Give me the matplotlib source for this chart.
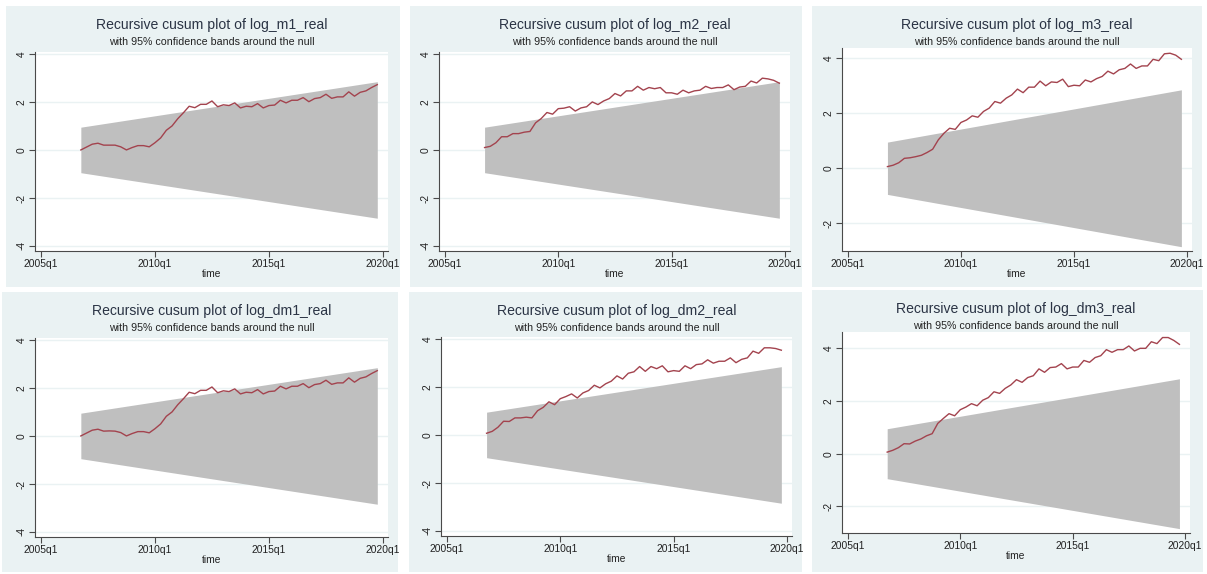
import matplotlib.pyplot as plt
from matplotlib.patches import Rectangle
import numpy as np

plt.rcParams['font.family'] = ['Liberation Sans', 'DejaVu Sans']

# quarterly sample 2006q4 .. 2019q4 (decimal years, q1 = .00)
quarters = np.arange(2006.75, 2019.76, 0.25)

# 95% bands: upper bound at first and last quarter (lower is symmetric)
band_start = 0.948
band_end = 2.844

m1 = [0.0, 0.12, 0.24, 0.28, 0.2, 0.2, 0.2, 0.13, 0.0, 0.1,
      0.18, 0.18, 0.13, 0.3, 0.5, 0.82, 1.0, 1.3, 1.55, 1.82,
      1.76, 1.9, 1.9, 2.04, 1.8, 1.88, 1.85, 1.96, 1.75, 1.82,
      1.8, 1.93, 1.75, 1.85, 1.87, 2.07, 1.96, 2.07, 2.07, 2.18,
      2.01, 2.14, 2.18, 2.32, 2.15, 2.21, 2.21, 2.42, 2.24, 2.4,
      2.46, 2.6, 2.72]
m2 = [0.1, 0.15, 0.3, 0.55, 0.55, 0.68, 0.68, 0.74, 0.77, 1.13,
      1.31, 1.56, 1.49, 1.72, 1.74, 1.8, 1.62, 1.75, 1.8, 2.0,
      1.89, 2.04, 2.14, 2.35, 2.25, 2.46, 2.46, 2.65, 2.49, 2.6,
      2.55, 2.6, 2.38, 2.38, 2.32, 2.49, 2.38, 2.46, 2.49, 2.65,
      2.56, 2.6, 2.6, 2.71, 2.51, 2.62, 2.65, 2.87, 2.79, 2.99,
      2.96, 2.9, 2.78]
m3 = [0.06, 0.11, 0.2, 0.36, 0.38, 0.42, 0.47, 0.57, 0.69, 1.03,
      1.27, 1.45, 1.41, 1.66, 1.75, 1.9, 1.85, 2.06, 2.18, 2.42,
      2.36, 2.54, 2.66, 2.87, 2.74, 2.94, 2.94, 3.16, 2.99, 3.13,
      3.11, 3.23, 2.96, 3.01, 2.99, 3.2, 3.13, 3.25, 3.33, 3.52,
      3.42, 3.57, 3.62, 3.78, 3.62, 3.71, 3.71, 3.95, 3.9, 4.15,
      4.17, 4.1, 3.95]
dm1 = [0.0, 0.12, 0.24, 0.28, 0.2, 0.21, 0.2, 0.14, 0.0, 0.1,
       0.18, 0.18, 0.13, 0.3, 0.5, 0.82, 1.0, 1.3, 1.55, 1.82,
       1.76, 1.9, 1.9, 2.04, 1.8, 1.88, 1.85, 1.96, 1.75, 1.82,
       1.8, 1.93, 1.75, 1.85, 1.87, 2.07, 1.96, 2.07, 2.07, 2.18,
       2.01, 2.14, 2.18, 2.32, 2.15, 2.21, 2.21, 2.42, 2.24, 2.4,
       2.46, 2.6, 2.72]
dm2 = [0.07, 0.15, 0.32, 0.57, 0.56, 0.71, 0.71, 0.74, 0.71, 1.01,
       1.15, 1.38, 1.26, 1.51, 1.6, 1.71, 1.54, 1.75, 1.85, 2.07,
       1.96, 2.13, 2.24, 2.46, 2.33, 2.57, 2.63, 2.85, 2.65, 2.85,
       2.76, 2.88, 2.63, 2.68, 2.65, 2.88, 2.76, 2.93, 2.96, 3.13,
       2.99, 3.07, 3.07, 3.21, 3.01, 3.15, 3.21, 3.49, 3.4, 3.63,
       3.63, 3.6, 3.53]
dm3 = [0.06, 0.13, 0.23, 0.38, 0.37, 0.48, 0.56, 0.68, 0.76, 1.15,
       1.34, 1.52, 1.44, 1.67, 1.77, 1.9, 1.82, 2.03, 2.13, 2.35,
       2.29, 2.48, 2.61, 2.81, 2.71, 2.89, 2.96, 3.22, 3.09, 3.27,
       3.29, 3.42, 3.22, 3.29, 3.29, 3.54, 3.47, 3.65, 3.72, 3.95,
       3.85, 3.95, 3.95, 4.09, 3.9, 4.0, 4.0, 4.25, 4.18, 4.41,
       4.41, 4.3, 4.15]

names = ['log_m1_real', 'log_m2_real', 'log_m3_real',
         'log_dm1_real', 'log_dm2_real', 'log_dm3_real']
series = [m1, m2, m3, dm1, dm2, dm3]
yticks_all = [[-4, -2, 0, 2, 4]] * 2 + [[-2, 0, 2, 4]] + [[-4, -2, 0, 2, 4]] * 2 + [[-2, 0, 2, 4]]
ylims = [(-4.21, 4.08), (-4.21, 4.08), (-3.0, 4.36),
         (-4.21, 4.08), (-4.21, 4.08), (-3.01, 4.62)]
xtick_years = [2005, 2010, 2015, 2020]
xtick_labels = ['2005q1', '2010q1', '2015q1', '2020q1']

W, H = 1207, 574
# panel backgrounds and plot regions, in pixels (left, top, right, bottom)
panels = [(6, 6, 400, 287), (410, 6, 802, 287), (812, 6, 1202, 287),
          (2, 292, 398, 572), (409, 292, 802, 572), (812, 290, 1203, 572)]
boxes = [(35, 52, 388, 251), (439, 52, 790, 251), (842, 48, 1192, 251),
         (35, 338, 388, 537), (441, 337, 792, 536), (842, 332, 1190, 533)]

BG = '#eaf2f3'
BAND = '#bfbfbf'
LINE = '#a3434e'
AXC = '#4a4a4a'

fig = plt.figure(figsize=(W / 100, H / 100), dpi=100)
fig.patch.set_facecolor('white')

for i in range(6):
    pl, pt, pr, pb = panels[i]
    fig.patches.append(Rectangle((pl / W, 1 - pb / H), (pr - pl) / W, (pb - pt) / H,
                                 transform=fig.transFigure, facecolor=BG,
                                 edgecolor='none', zorder=-5))
    l, t, r, b = boxes[i]
    ax = fig.add_axes([l / W, 1 - b / H, (r - l) / W, (b - t) / H])
    ax.set_zorder(2)
    ax.set_facecolor('white')

    x0, x1 = quarters[0], quarters[-1]
    ax.fill_between([x0, x1], [-band_start, -band_end], [band_start, band_end],
                    color=BAND, linewidth=0, zorder=2)
    ax.plot(quarters, series[i], color=LINE, lw=1.0, zorder=3)

    ax.set_xlim(2004.74, 2020.22)
    ax.set_ylim(*ylims[i])
    ax.set_xticks(xtick_years)
    ax.set_xticklabels(xtick_labels)
    ax.set_yticks(yticks_all[i])
    ax.set_yticklabels([str(v) for v in yticks_all[i]], rotation=90, va='center')
    for v in yticks_all[i]:
        ax.axhline(v, color=BG, lw=1.0, zorder=1)

    for s in ['top', 'right']:
        ax.spines[s].set_visible(False)
    for s in ['left', 'bottom']:
        ax.spines[s].set_color(AXC)
        ax.spines[s].set_linewidth(0.8)
    ax.tick_params(direction='out', length=4, width=0.8, color=AXC,
                   labelsize=7.4, labelcolor='#222222', pad=2)
    ax.set_xlabel('time', fontsize=7.4, color='#222222', labelpad=0)

    cx = (l + r) / 2 / W
    fig.text(cx, 1 - (pt + 19) / H, 'Recursive cusum plot of ' + names[i],
             ha='center', va='center', fontsize=10.1, color='#2b3445')
    fig.text(cx, 1 - (pt + 36) / H, 'with 95% confidence bands around the null',
             ha='center', va='center', fontsize=7.7, color='#222222')

fig.savefig('out.png', dpi=100, facecolor='white')
